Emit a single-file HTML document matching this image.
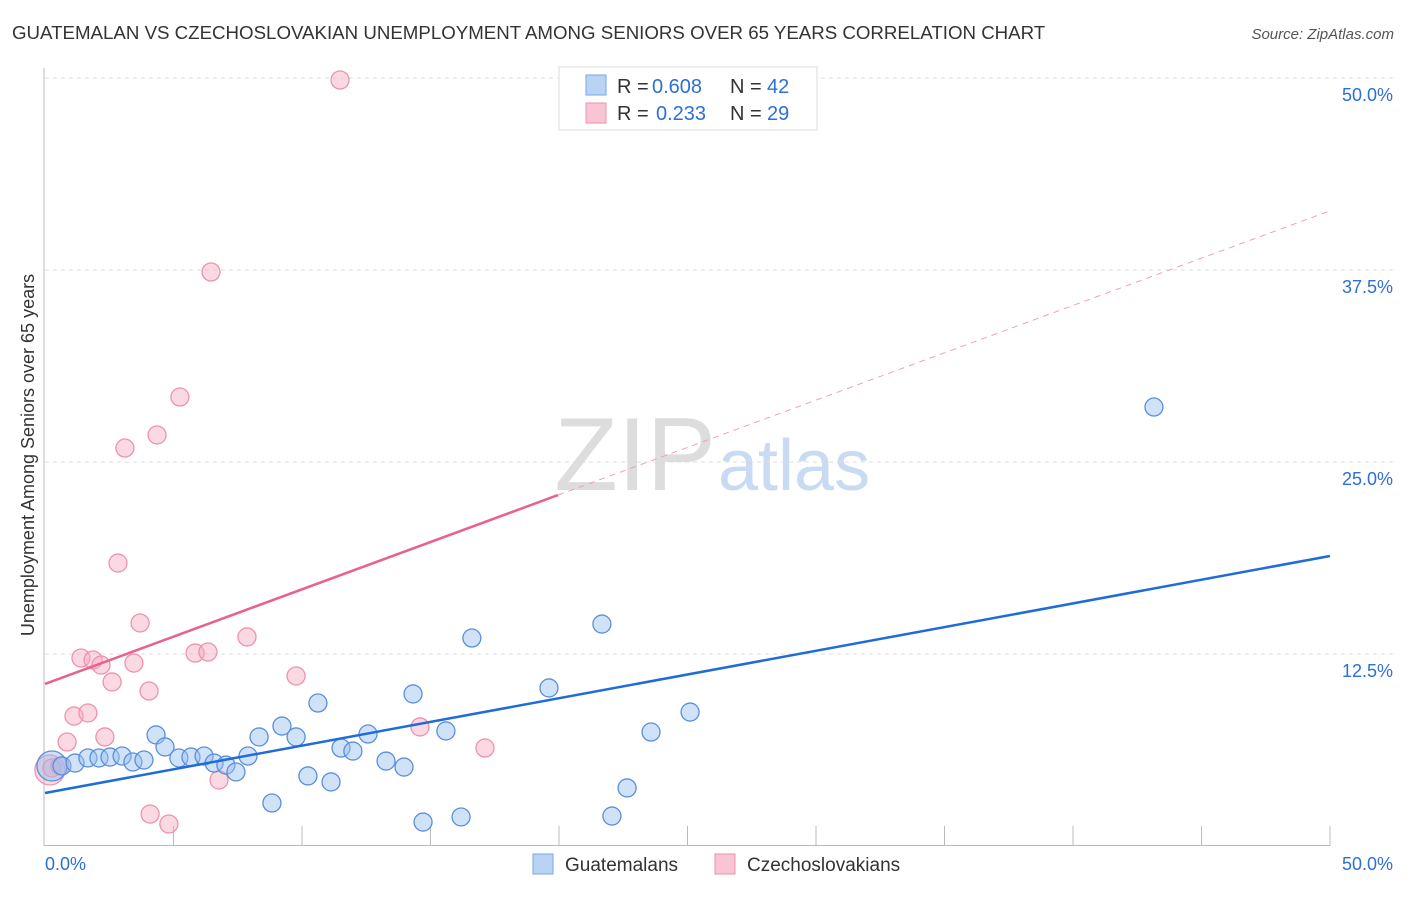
<!DOCTYPE html>
<html><head><meta charset="utf-8"><style>
body{margin:0;background:#fff;font-family:"Liberation Sans",sans-serif;}
svg text{font-family:"Liberation Sans",sans-serif;}
</style></head><body>
<svg id="c" width="1406" height="892">
<text x="12" y="39" font-size="18.7" fill="#333">GUATEMALAN VS CZECHOSLOVAKIAN UNEMPLOYMENT AMONG SENIORS OVER 65 YEARS CORRELATION CHART</text>
<text x="1394" y="39" font-size="15" fill="#555" text-anchor="end" font-style="italic">Source: ZipAtlas.com</text>
<text x="34" y="455" font-size="18" fill="#333" text-anchor="middle" transform="rotate(-90 34 455)">Unemployment Among Seniors over 65 years</text>
<text x="716" y="490" font-size="104" fill="#ddd" text-anchor="end" font-family="Liberation Serif">ZIP</text>
<text x="718" y="490" font-size="72" fill="#c9daf3">atlas</text>
<g id="grid"></g><g id="marks"></g>
<g>
<rect x="559" y="67" width="258" height="63" fill="#fff" stroke="#ddd"/>
<rect x="586" y="75" width="20" height="20" fill="#b9d3f5" stroke="#7aa6e6"/>
<rect x="586" y="103" width="20" height="20" fill="#f9c4d3" stroke="#ee92ad"/>
<text x="617" y="93" font-size="20" fill="#333">R =</text><text x="652" y="93" font-size="20" fill="#2c6fd6">0.608</text>
<text x="730" y="93" font-size="20" fill="#333">N =</text><text x="767" y="93" font-size="20" fill="#2c6fd6">42</text>
<text x="617" y="120" font-size="20" fill="#333">R =</text><text x="656" y="120" font-size="20" fill="#2c6fd6">0.233</text>
<text x="730" y="120" font-size="20" fill="#333">N =</text><text x="767" y="120" font-size="20" fill="#2c6fd6">29</text>
</g>
<g>
<rect x="533" y="854" width="20" height="20" fill="#b9d3f5" stroke="#7aa6e6"/>
<text x="565" y="871" font-size="19" fill="#333">Guatemalans</text>
<rect x="715" y="854" width="20" height="20" fill="#f9c4d3" stroke="#ee92ad"/>
<text x="747" y="871" font-size="19" fill="#333">Czechoslovakians</text>
</g>
</svg>
<script>
const yTicks=[12.5,25,37.5,50];
const yTickLabels=["12.5%","25.0%","37.5%","50.0%"];
const xTickLabels=["0.0%","50.0%"];
const blueX=[0.27,0.66,1.17,1.67,2.10,2.53,3.00,3.42,3.85,4.32,4.67,5.21,5.68,6.19,6.58,7.04,7.43,7.90,8.33,8.83,9.22,9.77,10.23,10.62,11.13,11.52,11.98,12.57,13.27,13.97,14.32,14.71,15.60,16.19,16.61,19.61,21.67,22.06,22.65,23.58,25.10,43.15];
const blueY=[5.21,5.21,5.40,5.73,5.73,5.79,5.86,5.47,5.60,7.23,6.45,5.73,5.79,5.86,5.40,5.27,4.82,5.86,7.10,2.80,7.81,7.10,4.56,9.31,4.17,6.38,6.18,7.29,5.53,5.14,9.90,1.56,7.49,1.89,13.54,10.29,14.45,1.95,3.78,7.42,8.72,28.58];
const pinkX=[0.19,0.27,0.58,0.86,1.13,1.40,1.67,1.87,2.18,2.33,2.61,2.84,3.11,3.46,3.70,4.05,4.09,4.36,4.82,5.25,5.84,6.34,6.46,6.77,7.86,9.77,11.48,14.59,17.12];
const pinkY=[4.95,5.08,5.21,6.77,8.46,12.24,8.66,12.11,11.78,7.10,10.68,18.42,25.91,11.91,14.52,10.09,2.08,26.76,1.43,29.23,12.56,12.63,37.37,4.30,13.61,11.07,49.87,7.75,6.38];
const blueLine=[3.45,18.88];
const pinkLine=[10.55,41.35];
const pinkSolidEnd=19.96;
const X=v=>45+v*25.7, Y=v=>846-v*15.36;
const NS="http://www.w3.org/2000/svg";
const g=document.getElementById('grid'),m=document.getElementById('marks');
function mk(p,tag,a){const e=document.createElementNS(NS,tag);for(const k in a)e.setAttribute(k,a[k]);p.appendChild(e);return e;}
yTicks.forEach((t,i)=>{
 const l=mk(g,'line',{x1:45,x2:1393,y1:Y(t),y2:Y(t),stroke:'#ddd','stroke-dasharray':'4,4'});
 
 
 const tx=mk(g,'text',{x:1393,y:Y(t)+23,'font-size':18,fill:'#2c6fd6','text-anchor':'end'});tx.textContent=yTickLabels[i];
 
 
});
mk(g,'line',{x1:44,x2:44,y1:68,y2:846,stroke:'#bbb'});
mk(g,'line',{x1:44,x2:1330,y1:845.5,y2:845.5,stroke:'#bbb'});
for(let i=1;i<=10;i++){const x=X(i*5);mk(g,'line',{x1:x,x2:x,y1:826,y2:846,stroke:'#bbb'});}
const xl0=mk(g,'text',{x:45,y:870,'font-size':18,fill:'#2c6fd6'});xl0.textContent=xTickLabels[0];


const xl1=mk(g,'text',{x:1393,y:870,'font-size':18,fill:'#2c6fd6','text-anchor':'end'});xl1.textContent=xTickLabels[1];


function pts(xs,ys,fill,stroke,name){xs.forEach((x,i)=>{const c=mk(m,'circle',{cx:X(x),cy:Y(ys[i]),r:(i==0&&x<0.3)?15:9,fill:fill,stroke:stroke,'stroke-width':1.3});
 
 });}
pts(pinkX,pinkY,'rgba(246,170,192,0.45)','#ee92ad','czechoslovakian-point');
pts(blueX,blueY,'rgba(150,190,240,0.45)','#5a8fdc','guatemalan-point');
const bl=mk(m,'line',{x1:X(0),y1:Y(blueLine[0]),x2:X(50),y2:Y(blueLine[1]),stroke:'#1f6bd8','stroke-width':2.5});


const ps=v=>pinkLine[0]+(pinkLine[1]-pinkLine[0])*v/50;
const pl=mk(m,'line',{x1:X(0),y1:Y(pinkLine[0]),x2:X(pinkSolidEnd),y2:Y(ps(pinkSolidEnd)),stroke:'#e8628d','stroke-width':2.5});


const pd=mk(m,'line',{x1:X(pinkSolidEnd),y1:Y(ps(pinkSolidEnd)),x2:X(50),y2:Y(pinkLine[1]),stroke:'#f0a0b8','stroke-width':1,'stroke-dasharray':'6,5'});


</script>
</body></html>
